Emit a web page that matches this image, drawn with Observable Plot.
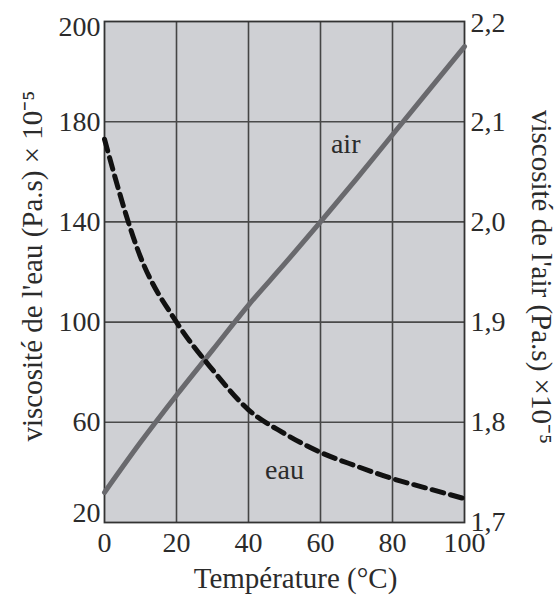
<!DOCTYPE html>
<html>
<head>
<meta charset="utf-8">
<script src="https://cdn.jsdelivr.net/npm/d3@7"></script>
<script src="https://cdn.jsdelivr.net/npm/@observablehq/plot@0.6"></script>
<style>
  html, body { margin: 0; padding: 0; background: #fff; }
</style>
</head>
<body>
<div id="chart"></div>
<script>
// Data
const temperature = [0, 10, 20, 30, 40, 50, 60, 70, 80, 90, 100];
const waterViscosity = [173, 126, 100, 81, 65, 55.5, 48, 42.5, 37.5, 33.5, 29.5];   // ×10^-5 Pa.s (left axis)
const airViscosity = [1.73, 1.78, 1.827, 1.872, 1.917, 1.958, 2.0, 2.043, 2.087, 2.131, 2.175]; // ×10^-5 Pa.s (right axis)

const xTicks = [0, 20, 40, 60, 80, 100];
const leftTicks = [20, 60, 100, 140, 180, 220];
const leftTickLabels = ["20", "60", "100", "140", "180", "200"];
const airTicks = [1.7, 1.8, 1.9, 2.0, 2.1, 2.2];
const airTickLabels = ["1,7", "1,8", "1,9", "2,0", "2,1", "2,2"];

const seriesLabels = [
  {name: "air", t: 67, v: 171},
  {name: "eau", t: 50, v: 41}
];

// air values are drawn on the left scale: 0.1 of air = 40 units of the left scale
const airToLeft = a => 20 + (a - 1.7) * 400;

const rows = temperature.map((t, i) => ({t, water: waterViscosity[i], air: airToLeft(airViscosity[i])}));

const leftLabelMap = new Map(leftTicks.map((v, i) => [v, leftTickLabels[i]]));
const airPos = airTicks.map(a => Math.round(airToLeft(a)));
const airLabelMap = new Map(airPos.map((v, i) => [v, airTickLabels[i]]));

const font = "'Liberation Serif', 'Times New Roman', serif";
const ink = "#2b2b2b";
const tickFont = 28;
const titleFont = 29;

const chart = Plot.plot({
  width: 557,
  height: 596,
  marginLeft: 104,
  marginRight: 93,
  marginTop: 21,
  marginBottom: 74,
  style: {fontFamily: font, fontSize: "28px", color: ink, background: "#fff"},
  x: {domain: [0, 100]},
  y: {domain: [20, 220]},
  marks: [
    Plot.frame({fill: "#cfd0d4", stroke: null}),
    Plot.ruleX(xTicks.slice(1, -1), {stroke: "#454545", strokeWidth: 1.6}),
    Plot.ruleY(leftTicks.slice(1, -1), {stroke: "#4a4a4a", strokeWidth: 1.6}),
    Plot.frame({stroke: "#333", strokeWidth: 1.8}),
    Plot.line(rows, {x: "t", y: "air", curve: "monotone-x", stroke: "#69696d", strokeWidth: 5}),
    Plot.line(rows, {x: "t", y: "water", curve: "monotone-x", stroke: "#111", strokeWidth: 5, strokeDasharray: "12,7"}),
    Plot.text(seriesLabels, {x: "t", y: "v", text: "name", fontSize: tickFont, fill: ink}),
    // x axis
    Plot.axisX({ticks: xTicks, tickSize: 0, tickPadding: 10, fontSize: tickFont, fill: ink, label: null}),
    // left axis (edge labels nudged inward like the reference)
    Plot.axisY({ticks: leftTicks.slice(1, -1), tickSize: 0, tickPadding: 4, fontSize: tickFont, fill: ink, label: null,
      tickFormat: d => leftLabelMap.get(d)}),
    Plot.axisY({ticks: [leftTicks[leftTicks.length - 1]], tickSize: 0, tickPadding: 4, fontSize: tickFont, fill: ink, label: null, dy: 6,
      tickFormat: d => leftLabelMap.get(d)}),
    Plot.axisY({ticks: [leftTicks[0]], tickSize: 0, tickPadding: 4, fontSize: tickFont, fill: ink, label: null, dy: -9,
      tickFormat: d => leftLabelMap.get(d)}),
    // right axis (air)
    Plot.axisY({anchor: "right", ticks: airPos.slice(0, -1), tickSize: 0, tickPadding: 6, fontSize: tickFont, fill: ink, label: null,
      tickFormat: d => airLabelMap.get(Math.round(d))}),
    Plot.axisY({anchor: "right", ticks: [airPos[airPos.length - 1]], tickSize: 0, tickPadding: 6, fontSize: tickFont, fill: ink, label: null, dy: 2,
      tickFormat: d => airLabelMap.get(Math.round(d))}),
    // axis titles
    Plot.text(["viscosité de l'eau (Pa.s) × 10⁻⁵"], {frameAnchor: "left", textAnchor: "middle", lineAnchor: "middle", dx: -72, dy: -6, rotate: -90, fontSize: titleFont, fill: ink}),
    Plot.text(["viscosité de l'air (Pa.s) ×10⁻⁵"], {frameAnchor: "right", textAnchor: "middle", lineAnchor: "middle", dx: 77, dy: 5, rotate: 90, fontSize: titleFont, fill: ink}),
    Plot.text(["Température (°C)"], {frameAnchor: "bottom", textAnchor: "middle", lineAnchor: "middle", dx: 11, dy: 56, fontSize: titleFont, fill: ink})
  ]
});

document.getElementById("chart").appendChild(chart);
</script>
</body>
</html>
